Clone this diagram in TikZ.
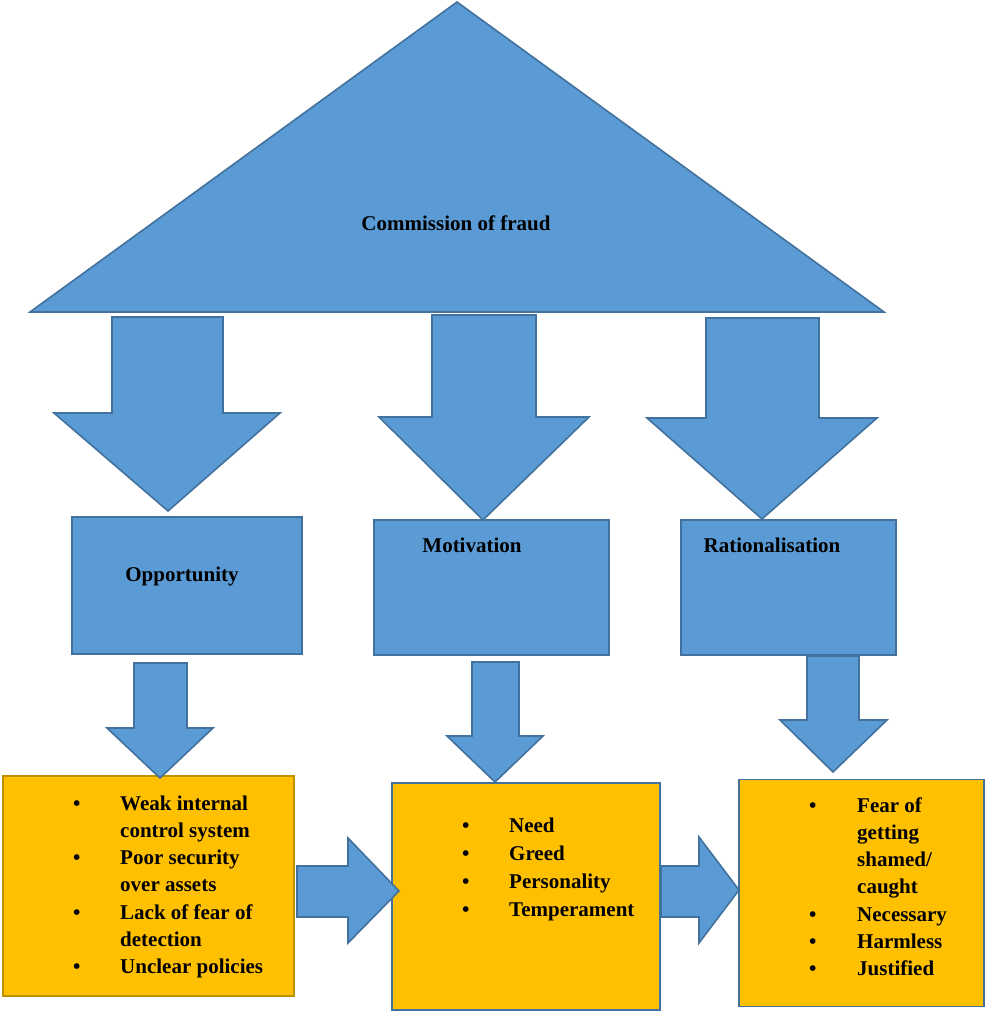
\documentclass[tikz,border=0pt]{standalone}
\usepackage{fontspec}
\setmainfont{Liberation Serif}
\definecolor{fillblue}{HTML}{5B9BD5}
\definecolor{lineblue}{HTML}{41719C}
\definecolor{gold}{HTML}{FFC000}
\definecolor{darkgold}{HTML}{BF9000}
\begin{document}
\begin{tikzpicture}[x=1pt,y=-1pt,
  blk/.style={fill=fillblue, draw=lineblue, line width=1.6pt, line join=miter},
  bluebox/.style={rectangle, fill=fillblue, draw=lineblue, line width=1.6pt, inner sep=0pt, outer sep=0pt},
  goldbox/.style={rectangle, fill=gold, draw=lineblue, line width=1.6pt, inner sep=0pt, outer sep=0pt},
  lbl/.style={font=\fontsize{21}{25}\selectfont\bfseries, inner sep=0pt, anchor=base},
  lst/.style={font=\fontsize{21}{27.3}\selectfont\bfseries, inner sep=0pt, anchor=base west, align=left}]
\useasboundingbox (0,0) rectangle (985,1012);

% triangle
\draw[blk] (457,2) -- (884,312) -- (30,312) -- cycle;
\node[lbl] (fraud) at (456,230) {Commission of fraud};

% big down arrows
\draw[blk] (112,317) -- (223,317) -- (223,413) -- (280,413) -- (168,511) -- (54,413) -- (112,413) -- cycle;
\draw[blk] (432,315) -- (536,315) -- (536,417) -- (589,417) -- (483,520) -- (379,417) -- (432,417) -- cycle;
\draw[blk] (706,318) -- (819,318) -- (819,418) -- (877,418) -- (762,519) -- (647,418) -- (706,418) -- cycle;

% blue boxes
\node[bluebox, minimum width=230pt, minimum height=137pt] (opp) at (187,585.5) {};
\node[bluebox, minimum width=235pt, minimum height=135pt] (mot) at (491.5,587.5) {};
\node[bluebox, minimum width=215pt, minimum height=135pt] (rat) at (788.5,587.5) {};
\node[lbl] (oppl) at (182,581) {Opportunity};
\node[lbl] (motl) at (472,552) {Motivation};
\node[lbl] (ratl) at (772,552) {Rationalisation};

% gold boxes
\node[goldbox, draw=darkgold, minimum width=291pt, minimum height=220pt] (b1) at (148.5,886) {};
\node[goldbox, minimum width=268pt, minimum height=227pt] (b2) at (526,896.5) {};
\node[goldbox, minimum width=245pt, minimum height=227pt] (b3) at (861.5,893) {};

% small down arrows
\draw[blk] (134,663) -- (187,663) -- (187,728) -- (213,728) -- (160,778) -- (107,728) -- (134,728) -- cycle;
\draw[blk] (472,662) -- (519,662) -- (519,736) -- (543,736) -- (495,782) -- (447,736) -- (472,736) -- cycle;
\draw[blk] (807,656) -- (859,656) -- (859,720) -- (887,720) -- (833,772) -- (780,720) -- (807,720) -- cycle;

% right arrows
\draw[blk] (297,866) -- (348,866) -- (348,838) -- (399,891) -- (348,943) -- (348,917) -- (297,917) -- cycle;
\draw[blk] (661,866) -- (699,866) -- (699,837) -- (739,890) -- (699,943) -- (699,917) -- (661,917) -- cycle;

% lists
\node[lst] (l1) at (73,810) {\begin{tabular}[t]{@{}p{47pt}@{}l@{}}
\textbullet & Weak internal\\
 & control system\\
\textbullet & Poor security\\
 & over assets\\
\textbullet & Lack of fear of\\
 & detection\\
\textbullet & Unclear policies
\end{tabular}};
\node[lst, font=\fontsize{21}{28.3}\selectfont\bfseries] (l2) at (462,832) {\begin{tabular}[t]{@{}p{47pt}@{}l@{}}
\textbullet & Need\\
\textbullet & Greed\\
\textbullet & Personality\\
\textbullet & Temperament
\end{tabular}};
\node[lst] (l3) at (809,812) {\begin{tabular}[t]{@{}p{48pt}@{}l@{}}
\textbullet & Fear of\\
 & getting\\
 & shamed/\\
 & caught\\
\textbullet & Necessary\\
\textbullet & Harmless\\
\textbullet & Justified
\end{tabular}};
\end{tikzpicture}
\end{document}
